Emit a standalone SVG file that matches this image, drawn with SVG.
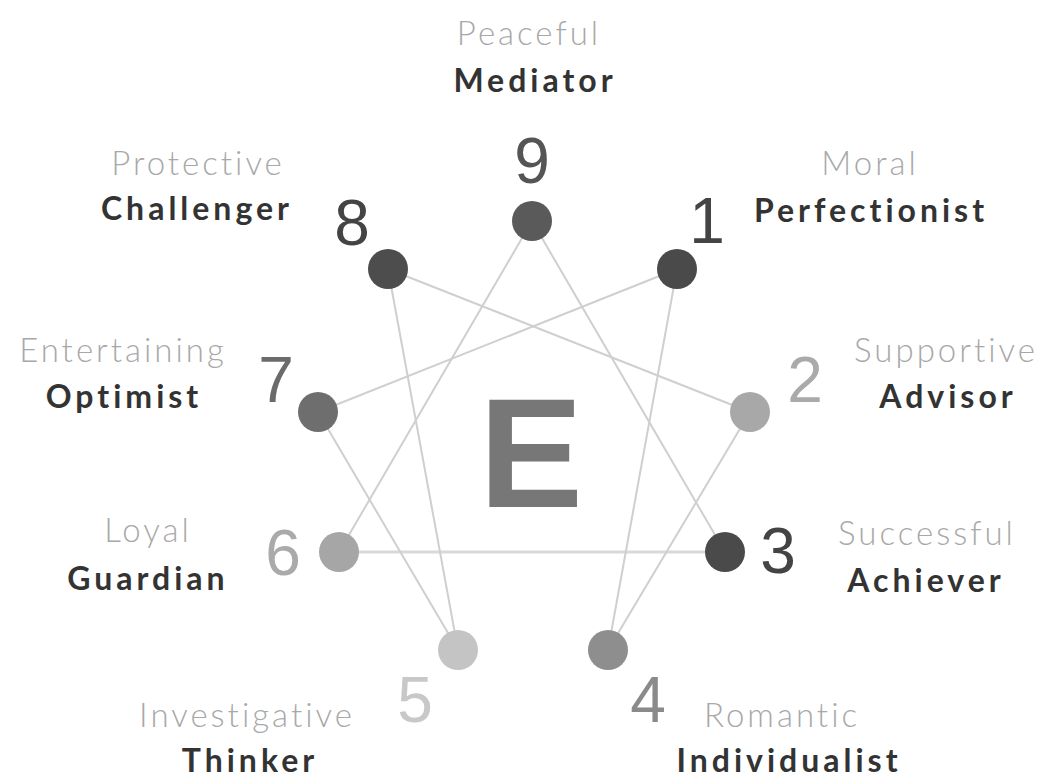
<svg xmlns="http://www.w3.org/2000/svg" width="1061" height="778" viewBox="0 0 1061 778">
<style>
.desc{font-family:Lato,"Open Sans","Liberation Sans",sans-serif;font-weight:300;font-size:33px;fill:#a8a8a8;text-anchor:middle;letter-spacing:3px}
.name{font-family:Lato,"Open Sans","Liberation Sans",sans-serif;font-weight:700;font-size:32px;fill:#333;text-anchor:middle;letter-spacing:4px}
.num{font-family:"Liberation Sans",Arial,sans-serif;font-size:64px;text-anchor:middle}
.ln{stroke:#cfcfcf;stroke-width:2;fill:none}
</style>
<rect width="1061" height="778" fill="#fff"/>
<g id="connectors">
<line class="ln" x1="532" y1="221" x2="339" y2="552"/>
<line class="ln" x1="532" y1="221" x2="725" y2="552"/>
<line class="ln" x1="339" y1="552" x2="725" y2="552" style="stroke:#d9d9d9;stroke-width:3"/>
<line class="ln" x1="677" y1="269" x2="318" y2="412"/>
<line class="ln" x1="677" y1="269" x2="608" y2="650"/>
<line class="ln" x1="750" y1="412" x2="608" y2="650"/>
<line class="ln" x1="750" y1="412" x2="388" y2="269"/>
<line class="ln" x1="388" y1="269" x2="458" y2="650"/>
<line class="ln" x1="318" y1="412" x2="458" y2="650"/>
</g>
<text x="531" y="507" style="font-family:'Liberation Sans',Arial,sans-serif;font-weight:700;font-size:156px;fill:#777;text-anchor:middle">E</text>
<g id="n9"><circle cx="532" cy="221" r="20" fill="#5a5a5a"/><text class="num" x="532" y="183" fill="#555">9</text><text class="desc" x="529" y="45">Peaceful</text><text class="name" x="535" y="92">Mediator</text></g>
<g id="n1"><circle cx="677" cy="269" r="20" fill="#4a4a4a"/><text class="num" x="707" y="243" fill="#444">1</text><text class="desc" x="870" y="175">Moral</text><text class="name" x="871" y="222">Perfectionist</text></g>
<g id="n2"><circle cx="750" cy="412" r="20" fill="#a8a8a8"/><text class="num" x="805" y="402" fill="#aaa">2</text><text class="desc" x="946" y="362">Supportive</text><text class="name" x="948" y="408">Advisor</text></g>
<g id="n3"><circle cx="725" cy="552" r="20" fill="#4a4a4a"/><text class="num" x="778" y="573" fill="#444">3</text><text class="desc" x="927" y="545">Successful</text><text class="name" x="926" y="592">Achiever</text></g>
<g id="n4"><circle cx="608" cy="650" r="20" fill="#8e8e8e"/><text class="num" x="648" y="722" fill="#8a8a8a">4</text><text class="desc" x="782" y="727">Romantic</text><text class="name" x="789" y="772">Individualist</text></g>
<g id="n5"><circle cx="458" cy="650" r="20" fill="#c4c4c4"/><text class="num" x="415" y="722" fill="#c8c8c8">5</text><text class="desc" x="247" y="727">Investigative</text><text class="name" x="250" y="772">Thinker</text></g>
<g id="n6"><circle cx="339" cy="552" r="20" fill="#a6a6a6"/><text class="num" x="283" y="575" fill="#aaa">6</text><text class="desc" x="148" y="542">Loyal</text><text class="name" x="148" y="590">Guardian</text></g>
<g id="n7"><circle cx="318" cy="412" r="20" fill="#6e6e6e"/><text class="num" x="276" y="402" fill="#6b6b6b">7</text><text class="desc" x="123" y="362">Entertaining</text><text class="name" x="124" y="408">Optimist</text></g>
<g id="n8"><circle cx="388" cy="269" r="20" fill="#4d4d4d"/><text class="num" x="352" y="245" fill="#444">8</text><text class="desc" x="198" y="175">Protective</text><text class="name" x="197" y="220">Challenger</text></g>
</svg>
